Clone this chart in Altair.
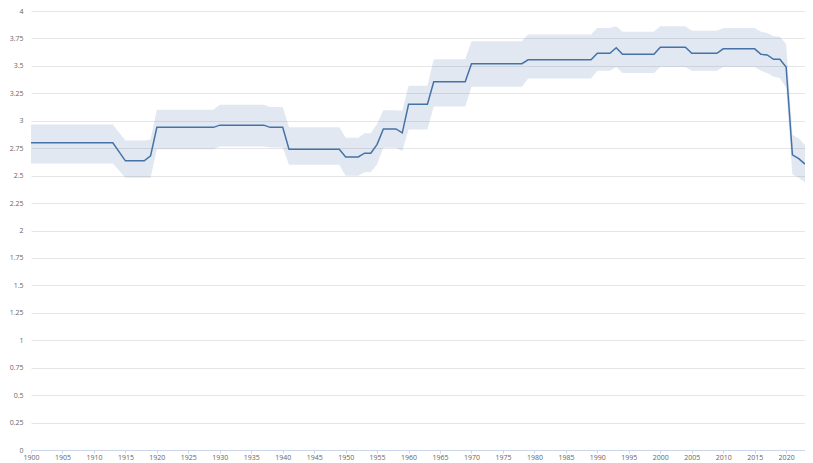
import altair as alt
import pandas as pd

years = [1900, 1913, 1915, 1918, 1919, 1920, 1929, 1930, 1937, 1938, 1940, 1941,
         1949, 1950, 1952, 1953, 1954, 1955, 1956, 1958, 1959, 1960, 1963, 1964,
         1969, 1970, 1978, 1979, 1989, 1990, 1992, 1993, 1994, 1999, 2000, 2004,
         2005, 2009, 2010, 2015, 2016, 2017, 2018, 2019, 2020, 2021, 2022, 2023]
mean = [2.80, 2.80, 2.635, 2.635, 2.68, 2.94, 2.94, 2.96, 2.96, 2.94, 2.94, 2.74,
        2.74, 2.67, 2.67, 2.705, 2.705, 2.785, 2.925, 2.925, 2.89, 3.15, 3.15, 3.355,
        3.355, 3.52, 3.52, 3.555, 3.555, 3.615, 3.615, 3.665, 3.605, 3.605, 3.67, 3.67,
        3.615, 3.615, 3.655, 3.655, 3.605, 3.60, 3.56, 3.56, 3.49, 2.69, 2.655, 2.605]
low = [2.61, 2.61, 2.48, 2.48, 2.48, 2.74, 2.74, 2.765, 2.765, 2.757, 2.757, 2.60,
       2.60, 2.50, 2.50, 2.53, 2.53, 2.605, 2.755, 2.755, 2.725, 2.92, 2.92, 3.13,
       3.13, 3.31, 3.31, 3.385, 3.385, 3.455, 3.455, 3.49, 3.435, 3.435, 3.49, 3.49,
       3.455, 3.455, 3.49, 3.49, 3.455, 3.435, 3.40, 3.39, 3.30, 2.51, 2.48, 2.44]
high = [2.965, 2.965, 2.82, 2.82, 2.83, 3.10, 3.10, 3.145, 3.145, 3.125, 3.125, 2.94,
        2.94, 2.845, 2.845, 2.885, 2.885, 2.97, 3.095, 3.095, 3.09, 3.32, 3.32, 3.56,
        3.56, 3.725, 3.725, 3.785, 3.785, 3.845, 3.845, 3.86, 3.81, 3.81, 3.86, 3.86,
        3.82, 3.82, 3.845, 3.845, 3.81, 3.80, 3.77, 3.765, 3.70, 2.87, 2.84, 2.78]

x_ticks = list(range(1900, 2021, 5))
y_ticks = [i * 0.25 for i in range(17)]

df = pd.DataFrame({"year": years, "mean": mean, "low": low, "high": high})

line_color = "#4572A7"
font = "Open Sans"

x_scale = alt.Scale(domain=[1900, 2023], nice=False, zero=False)
y_scale = alt.Scale(domain=[0, 4], nice=False)

x_axis = alt.Axis(values=x_ticks, format="d", title=None, grid=False,
                  domainColor="#ccd6eb", tickColor="#ccd6eb", tickSize=3,
                  labelPadding=0, labelFontSize=7, labelColor="#666666",
                  labelFont=font, labelFlush=False, labelOverlap=False)
y_axis = alt.Axis(values=y_ticks, labelExpr="'' + datum.value", title=None,
                  grid=True, gridColor="#e6e6e6", domain=False, ticks=False,
                  labelPadding=8, labelFontSize=7, labelColor="#666666",
                  labelFont=font, labelOverlap=False)

base = alt.Chart(df).encode(x=alt.X("year:Q", scale=x_scale, axis=x_axis))

band = base.mark_area(color=line_color, opacity=0.16).encode(
    y=alt.Y("low:Q", scale=y_scale, axis=y_axis),
    y2="high:Q",
)

line = base.mark_line(color=line_color, strokeWidth=1.5).encode(
    y=alt.Y("mean:Q", scale=y_scale, axis=y_axis),
)

chart = alt.layer(band, line).properties(
    width=774, height=439,
    autosize=alt.AutoSizeParams(type="none"),
    padding={"left": 23, "top": 3, "right": 0, "bottom": 12},
).configure_view(stroke=None)

chart.save("out.html", embed_options={"renderer": "svg", "actions": False})
